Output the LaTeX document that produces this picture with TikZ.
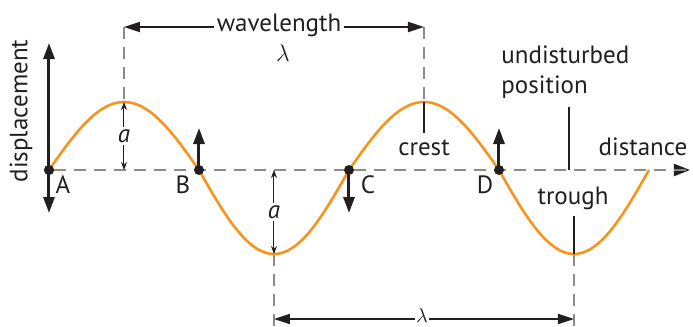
\documentclass[tikz,border=0pt]{standalone}
\usepackage{fontspec}
\setmainfont{PT Sans}
\usetikzlibrary{arrows.meta,positioning,calc}
\definecolor{waveorange}{RGB}{247,148,29}
\definecolor{dashgray}{RGB}{140,140,140}
\definecolor{inkblack}{RGB}{35,31,32}

\tikzset{
  guide/.style={dashgray, line width=1pt, dash pattern=on 6pt off 4pt},
  motion/.style={inkblack, line width=1.5pt, -{Triangle[length=8pt,width=5.5pt]}},
  spanline/.style={inkblack, line width=1pt, -{Triangle[length=8pt,width=5pt]}},
  amp/.style={inkblack, line width=0.5pt, {Stealth[length=4pt,width=3pt]}-{Stealth[length=4pt,width=3pt]}},
  lbl/.style={inkblack, font=\fontsize{12.5}{15}\selectfont},
  pointer/.style={inkblack, line width=1pt},
  dot/.style={circle, fill=inkblack, inner sep=0pt, minimum size=5pt},
}

\begin{document}
\begin{tikzpicture}[x=0.5pt, y=-0.5pt]
        \useasboundingbox (0,0) rectangle (693,327);
        % Points on the wave
        \coordinate (crestL) at (124,102);
        \coordinate (crestR) at (424,102);
        \coordinate (troughL) at (274,254);
        \coordinate (troughR) at (574,254);
        \coordinate (axisL) at (124,170);
        \coordinate (axisM) at (274,170);
        \coordinate (axisEnd) at (690,170);
        \coordinate (topL) at (124,27);
        \coordinate (topR) at (424,27);
        \coordinate (botL) at (274,327);
        \coordinate (botR) at (574,327);
        \coordinate (spanL) at (274,319);
        \coordinate (spanR) at (574,319);
        \coordinate (udpos) at (569,170);
        % Axis and guide lines
        \node[dot] (A) at (49,170) {};
        \draw[guide, -{Triangle[length=8pt,width=6pt]}, inkblack] (A) -- (axisEnd);
        \draw[guide] (A) -- (axisEnd);
        \draw[guide] (topL) -- (crestL);
        \draw[guide] (topR) -- (crestR);
        \draw[guide] (troughL) -- (botL);
        \draw[guide] (troughR) -- (botR);
        % Wave
        \draw[waveorange, line width=1.3pt, domain=49:649, samples=241]
            plot (\x, {170 - (sin(1.2*(\x-49)) > 0 ? 68 : 84)*sin(1.2*(\x-49))});
        % Particles
        \node[dot] (B) at (199,170) {};
        \node[dot] (C) at (349,170) {};
        \node[dot] (D) at (499,170) {};
        \node[dot] at (49,170) {};
        \coordinate (Aup) at (49,43);
        \coordinate (Adown) at (49,213);
        \coordinate (Bup) at (199,128);
        \coordinate (Cdown) at (349,213);
        \coordinate (Dup) at (499,128);
        \draw[motion] (A.center) -- (Aup);
        \draw[motion] (A.center) -- (Adown);
        \draw[motion] (B.center) -- (Bup);
        \draw[motion] (C.center) -- (Cdown);
        \draw[motion] (D.center) -- (Dup);
        \node[lbl] (Alab) at (63,185) {A};
        \node[lbl] (Blab) at (183,185) {B};
        \node[lbl] (Clab) at (368,185) {C};
        \node[lbl] (Dlab) at (485,185) {D};
        % Amplitude
        \draw[amp] (crestL) -- node[lbl, fill=white, inner sep=1pt] (aup) {\textit{a}} (axisL);
        \draw[amp] (axisM) -- node[lbl, fill=white, inner sep=1pt] (adown) {\textit{a}} (troughL);
        % Wavelength
        \node[lbl, inner sep=1pt] (wl) at (279,25) {wavelength};
        \node[lbl] (wlsym) at (283,53) {$\lambda$};
        \draw[spanline] (wl.west |- topL) -- (topL);
        \draw[spanline] (wl.east |- topR) -- (topR);
        \node[lbl, font=\fontsize{10}{12}\selectfont, fill=white, inner sep=0.5pt] (lam) at (422,316) {$\lambda$};
        \draw[spanline] (lam.west |- spanL) -- (spanL);
        \draw[spanline] (lam.east |- spanR) -- (spanR);
        % Labels
        \node[lbl, rotate=90] (disp) at (21,111) {displacement};
        \node[lbl] (dist) at (643,147) {distance};
        \node[lbl] (crest) at (424,148) {crest};
        \node[lbl] (trough) at (573,198) {trough};
        \node[lbl, align=left, anchor=north west, inner sep=0pt] (undist) at (501,45) {undisturbed\\position};
        \draw[pointer] (crestR) -- (crest.north);
        \draw[pointer] (troughR) -- (trough.south -| troughR);
        \draw[pointer] (udpos) -- ($(udpos |- undist.south)+(0,8)$);
    \end{tikzpicture}
\end{document}
